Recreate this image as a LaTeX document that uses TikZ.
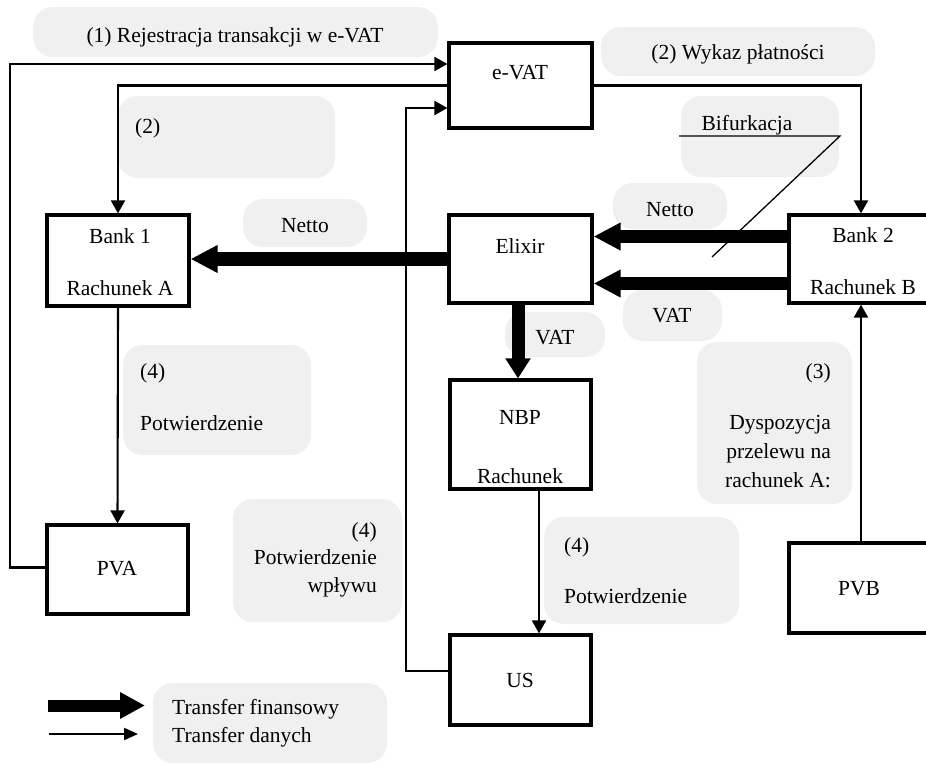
\documentclass[tikz,border=0pt]{standalone}
\usepackage{fontspec}
\setmainfont{Liberation Serif}
\usetikzlibrary{arrows.meta}
\definecolor{bubblegray}{HTML}{F0F0F0}
\begin{document}
\begin{tikzpicture}[x=1pt,y=-1pt,
  txt/.style={inner sep=0pt, font=\fontsize{21.5pt}{26pt}\selectfont},
  bubble/.style={fill=bubblegray, rounded corners=20pt},
  box/.style={draw, line width=3.2pt, fill=white, inner sep=0pt},
  thinarrow/.style={line width=2.1pt, -{Triangle[length=13pt,width=14pt]}},
  fatarrow/.style={line width=13.5pt, -{Triangle[length=27pt,width=26pt]}},
  fatarrowshort/.style={line width=13pt, -{Triangle[length=20pt,width=24pt]}}]
\useasboundingbox (0,0) rectangle (926,764);

% gray label bubbles
\fill[bubble] (33,7) rectangle (438,57);
\fill[bubble] (118,96) rectangle (335,178);
\fill[bubble] (601,27) rectangle (875,76);
\fill[bubble] (681,96) rectangle (839,177);
\fill[bubble] (613,183) rectangle (727,229);
\fill[bubble] (623,290) rectangle (722,341);
\fill[bubble] (243,199) rectangle (367,247);
\fill[bubble] (505,312) rectangle (605,357);
\fill[bubble] (123,345) rectangle (311,455);
\fill[bubble] (233,499) rectangle (402,622);
\fill[bubble] (544,517) rectangle (739,624);
\fill[bubble] (697,342) rectangle (852,504);
\fill[bubble] (153,683) rectangle (387,763);

% boxes
\node[box, minimum width=143pt, minimum height=85pt] (evat) at (520.5,85.5) {};
\node[box, minimum width=143pt, minimum height=88pt] (elixir) at (520.5,259) {};
\node[box, minimum width=144pt, minimum height=88pt] (bank2) at (861,259) {};
\node[box, minimum width=142pt, minimum height=91pt] (bank1) at (118,260.5) {};
\node[box, minimum width=141pt, minimum height=109pt] (nbp) at (520.5,434.5) {};
\node[box, minimum width=141pt, minimum height=90pt] (us) at (520.5,680) {};
\node[box, minimum width=141pt, minimum height=89pt] (pva) at (117.5,569.5) {};
\node[box, minimum width=144pt, minimum height=90pt] (pvb) at (861,588) {};

% thin data connectors
\draw[thinarrow] ([yshift=2pt]pva.west) -- ++(-35,0) |- ([yshift=21.5pt]evat.west);
\draw[thinarrow] (evat.west) -| (bank1.north);
\draw[thinarrow] ([yshift=9pt]us.west) -- ++(-42,0) |- ([yshift=-22.5pt]evat.west);
\draw[thinarrow] (evat.east) -| (bank2.north);
\draw[thinarrow] (pvb.north) -- (bank2.south);
\draw[thinarrow] (bank1.south) -- (pva.north);
\draw[thinarrow] ([xshift=18.5pt]nbp.south) -- ([xshift=18.5pt]us.north);

% thick financial transfers
\draw[fatarrow] (elixir.west) -- (elixir.west -| bank1.east);
\draw[fatarrow] ([yshift=22.5pt]bank2.west) -- ([yshift=22.5pt]elixir.east);
\draw[fatarrow] ([yshift=-24.5pt]bank2.west) -- ([yshift=-24.5pt]elixir.east);
\draw[fatarrowshort] ([xshift=-2.5pt]elixir.south) -- ([xshift=-2.5pt]nbp.north);

% bifurcation pointer
\draw[line width=1.3pt] (679,136) -- (840,136) -- (712,257);

% box texts
\node[txt, anchor=base] (tevat) at (520,79) {e-VAT};
\node[txt, anchor=base] (telixir) at (520,253) {Elixir};
\node[txt, anchor=base] (tbank2a) at (863,242) {Bank 2};
\node[txt, anchor=base] (tbank2b) at (863,294) {Rachunek B};
\node[txt, anchor=base] (tbank1a) at (120,243) {Bank 1};
\node[txt, anchor=base] (tbank1b) at (120,295) {Rachunek A};
\node[txt, anchor=base] (tnbpa) at (520,424) {NBP};
\node[txt, anchor=base] (tnbpb) at (520,483) {Rachunek};
\node[txt, anchor=base] (tus) at (520,687) {US};
\node[txt, anchor=base] (tpva) at (117,575) {PVA};
\node[txt, anchor=base] (tpvb) at (859,595) {PVB};

% label texts
\node[txt, anchor=base] (l1) at (235,42) {(1) Rejestracja transakcji w e-VAT};
\node[txt, anchor=base west] (l2) at (135,133) {(2)};
\node[txt, anchor=base] (l2w) at (738,59) {(2) Wykaz płatności};
\node[txt, anchor=base] (lbif) at (747,130) {Bifurkacja};
\node[txt, anchor=base] (lnetr) at (670,216) {Netto};
\node[txt, anchor=base] (lvatr) at (672,322) {VAT};
\node[txt, anchor=base] (lnetl) at (305,232) {Netto};
\node[txt, anchor=base] (lvatd) at (555,344) {VAT};
\node[txt, anchor=base west] (l4a) at (140,378) {(4)};
\node[txt, anchor=base west] (l4b) at (140,430) {Potwierdzenie};
\node[txt, anchor=base east] (l4c) at (377,537) {(4)};
\node[txt, anchor=base east] (l4d) at (377,564) {Potwierdzenie};
\node[txt, anchor=base east] (l4e) at (377,592) {wpływu};
\node[txt, anchor=base west] (l4f) at (564,552) {(4)};
\node[txt, anchor=base west] (l4g) at (564,603) {Potwierdzenie};
\node[txt, anchor=base east] (l3a) at (831,378) {(3)};
\node[txt, anchor=base east] (l3b) at (831,429) {Dyspozycja};
\node[txt, anchor=base east] (l3c) at (831,458) {przelewu na};
\node[txt, anchor=base east] (l3d) at (831,487) {rachunek A:};

% legend
\coordinate (legfs) at (48,705.5);
\coordinate (legfe) at (145,705.5);
\coordinate (legds) at (49,734);
\coordinate (legde) at (138,734);
\draw[line width=12pt, -{Triangle[length=25pt,width=25pt]}] (legfs) -- (legfe);
\draw[line width=2.1pt, -{Triangle[length=14pt,width=12pt]}] (legds) -- (legde);
\node[txt, anchor=base west] (legf) at (172,714) {Transfer finansowy};
\node[txt, anchor=base west] (legd) at (172,742) {Transfer danych};
\end{tikzpicture}
\end{document}
